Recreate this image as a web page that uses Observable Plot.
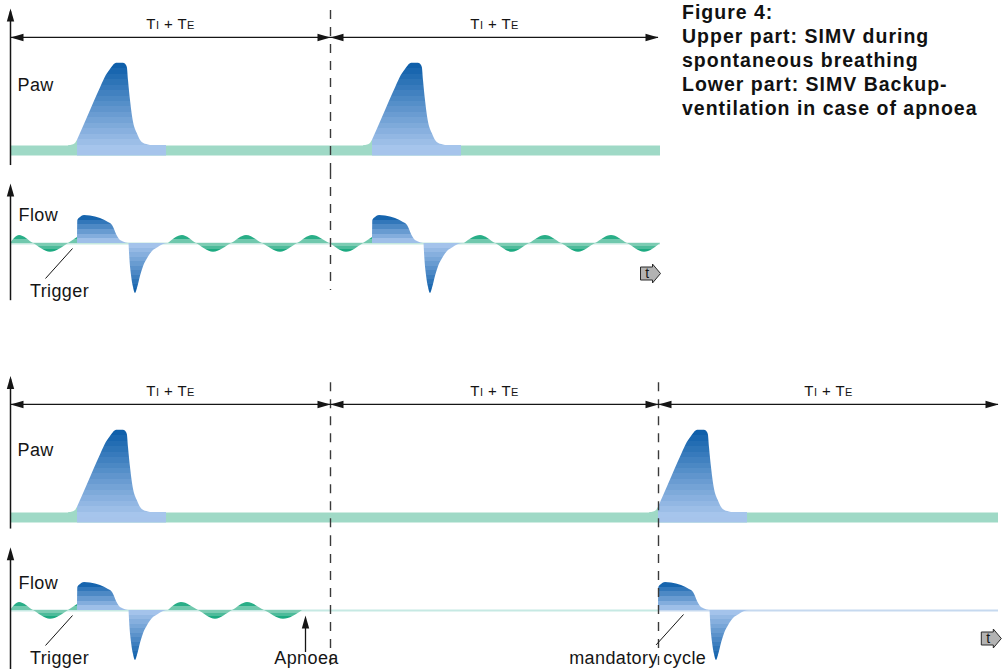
<!DOCTYPE html>
<html>
<head>
<meta charset="utf-8">
<script src="https://cdn.jsdelivr.net/npm/d3@7"></script>
<script src="https://cdn.jsdelivr.net/npm/@observablehq/plot@0.6"></script>
<style>
  body { margin: 0; background: #fff; }
  #wrap { position: relative; width: 1008px; height: 669px; overflow: hidden; background: #fff; }
  .panel { position: absolute; left: 0; }
  #caption { position: absolute; left: 682px; top: 1px; font-family: "Liberation Sans", Arial, sans-serif;
             font-weight: bold; font-size: 19.5px; line-height: 23.9px; letter-spacing: 1px; color: #111; }
</style>
</head>
<body>
<div id="wrap">
  <div id="caption">Figure 4:<br>Upper part: SIMV during<br>spontaneous breathing<br>Lower part: SIMV Backup-<br>ventilation in case of apnoea</div>
</div>
<script>
// ---------------- data (time in s, Paw in mbar above PEEP, flow in L/min) ----------------
const cycleLabel = "TI + TE";
const upperCycleBounds = [0, 4, 8.1];
const lowerCycleBounds = [0, 4, 8.1, 12.35];
const upperSpan = 8.125;
const lowerSpan = 12.35;

// start times of the mandatory breaths
const upperBreathStarts = [0.8375, 4.525];
const lowerBreathStarts = [0.8375, 8.1];

// Paw waveform of one mandatory breath (time from breath start)
const pawPreT = [-0.11, -0.06, -0.025, 0];
const pawPreV = [1.4, 1.6, 2.0, 2.9];
const pawT = [0, 0.125, 0.29, 0.36, 0.41, 0.45, 0.49, 0.575, 0.6125, 0.625, 0.6375, 0.6625, 0.696, 0.746, 0.809, 0.8875, 0.9375, 1.1125];
const pawV = [2.9, 9.4, 18, 21.4, 23.1, 24.3, 24.9, 24.9, 24.3, 23.4, 20, 14.3, 8.6, 4.9, 2.3, 1.6, 1.4, 1.4];

// Flow waveform of one mandatory breath (time from breath start)
const flowInspT = [0, 0.004, 0.0375, 0.0875, 0.1625, 0.2875, 0.3875, 0.4375, 0.4625, 0.4875, 0.525, 0.575, 0.6375];
const flowInspV = [0, 28.75, 32.5, 35, 34.4, 31.25, 26.25, 22.5, 17.5, 11.25, 5, 1.9, 0];
const flowExpT = [0.644, 0.656, 0.675, 0.7, 0.725, 0.75, 0.7875, 0.825, 0.875, 0.9375, 1.0, 1.075, 1.1375];
const flowExpV = [0, -21, -40, -55, -62.5, -56, -41, -29, -19, -10, -5.6, -1.2, 0];

// spontaneous breathing flow (zero crossings and extremes)
const upperWave1T = [0, 0.1125, 0.2875, 0.5, 0.725, 0.8375];
const upperWave1V = [0, 10, 0, -11, 0, 7.5];
const upperWave2T = [1.975, 2.15, 2.325, 2.5375, 2.7625, 2.95, 3.15, 3.375, 3.5875, 3.775, 3.9875, 4.2, 4.4125, 4.525];
const upperWave2V = [0, 10, 0, -11, 0, 10, 0, -11, 0, 10, 0, -11, 0, 7.5];
const upperWave3T = [5.675, 5.875, 6.0625, 6.275, 6.4875, 6.6875, 6.8875, 7.1, 7.3125, 7.5125, 7.7125, 7.925, 8.125];
const upperWave3V = [0, 10, 0, -11, 0, 10, 0, -11, 0, 10, 0, -11, 0];
const lowerWave1T = [0, 0.1125, 0.2875, 0.5, 0.725, 0.8375];
const lowerWave1V = [0, 10, 0, -11, 0, 7.5];
const lowerWave2T = [1.975, 2.1375, 2.35, 2.5625, 2.775, 2.9625, 3.175, 3.4125, 3.65];
const lowerWave2V = [0, 10, 0, -11, 0, 10, 0, -11, 0];

// annotations
const pawLabel = "Paw", flowLabel = "Flow";
const upperNoteText = ["Trigger"], upperNoteT = [0.6125], upperNoteV = [-60];
const upperLeadT1 = [0.775], upperLeadV1 = [-6.25], upperLeadT2 = [0.4375], upperLeadV2 = [-43.75];
const lowerNoteText = ["Trigger", "Apnoea", "mandatory cycle"], lowerNoteT = [0.6125, 3.7, 7.84], lowerNoteV = [-60, -60, -60];
const lowerLeadT1 = [0.775, 8.4125], lowerLeadV1 = [-6.25, -5], lowerLeadT2 = [0.4375, 8.07], lowerLeadV2 = [-43.75, -43];
const apnoeaT = [3.6875], apnoeaFromV = [-52.5], apnoeaToV = [-6.25];
const upperTimeIcon = [[8.0, -37.5]], lowerTimeIcon = [[12.26, -35]];

// ---------------- layout & style ----------------
const FONT = "'Liberation Sans', Arial, Helvetica, sans-serif";
const INK = "#151515";
const PX_PER_S = 80, X0 = 10;
const PAW_PX = 3.5, PAW_BASE = 150, PAW_H = 170;
const FLOW_PX = 0.8, FLOW_BASE = 73, FLOW_H = 132;
const GREEN_BAND = "#9fd9c6", BLUE_BAND = "#a6c4eb";
const GREEN_DARK = "#06a174", GREEN_LIGHT = "#93d5c0";
const BLUE_DARK = "#0a5ca8", BLUE_LIGHT = "#abc8ee";
const SVGNS = "http://www.w3.org/2000/svg";

const headRight = {draw(c) { c.moveTo(0, 0); c.lineTo(-13, -3.7); c.lineTo(-13, 3.7); c.closePath(); }};
const headLeft  = {draw(c) { c.moveTo(0, 0); c.lineTo(13, -3.7); c.lineTo(13, 3.7); c.closePath(); }};
const headUp    = {draw(c) { c.moveTo(0, 0); c.lineTo(-3.7, 13); c.lineTo(3.7, 13); c.closePath(); }};
const timeArrow = {draw(c) { c.moveTo(-10, -6.5); c.lineTo(2, -6.5); c.lineTo(2, -9.5); c.lineTo(10, 0);
                             c.lineTo(2, 9.5); c.lineTo(2, 6.5); c.lineTo(-10, 6.5); c.closePath(); }};

const xOpt = (w) => ({domain: [0, (w - X0) / PX_PER_S], range: [X0, w], axis: null});
const yOpt = (base, px, h) => ({domain: [(base - h) / px, base / px], range: [h, 0], axis: null});
const zip = (T, V, seg, off = 0) => T.map((t, i) => ({t: t + off, v: V[i], seg}));
const segs = (b) => b.slice(0, -1).map((a, i) => ({a, b: b[i + 1], m: (a + b[i + 1]) / 2}));

function addGradient(svg, id, base, px, vTop, vBot, dark, light, band) {
  const y = (v) => base - px * v;
  const yT = y(vTop), y0 = y(0), yB = vBot < 0 ? y(vBot) : y0 + 0.01;
  const iu = d3.interpolateRgb(dark, light);
  const st = [];
  const up = Math.max(1, Math.round((y0 - yT) / band));
  for (let i = 0; i < up; i++) {
    const c = iu((i + 0.5) / up);
    st.push([yT + (y0 - yT) * i / up, c], [yT + (y0 - yT) * (i + 1) / up, c]);
  }
  if (vBot < 0) {
    const dn = Math.max(1, Math.round((yB - y0) / band));
    for (let i = 0; i < dn; i++) {
      const c = iu(1 - (i + 0.5) / dn);
      st.push([y0 + (yB - y0) * i / dn, c], [y0 + (yB - y0) * (i + 1) / dn, c]);
    }
  }
  let defs = svg.querySelector("defs");
  if (!defs) { defs = document.createElementNS(SVGNS, "defs"); svg.insertBefore(defs, svg.firstChild); }
  const g = document.createElementNS(SVGNS, "linearGradient");
  g.setAttribute("id", id);
  g.setAttribute("gradientUnits", "userSpaceOnUse");
  g.setAttribute("x1", 0); g.setAttribute("x2", 0);
  g.setAttribute("y1", yT); g.setAttribute("y2", yB);
  for (const [yy, c] of st) {
    const s = document.createElementNS(SVGNS, "stop");
    s.setAttribute("offset", Math.min(1, Math.max(0, (yy - yT) / (yB - yT))));
    s.setAttribute("stop-color", c);
    g.appendChild(s);
  }
  defs.appendChild(g);
}

function subscriptLabels(svg) {
  svg.querySelectorAll("text").forEach((el) => {
    if (el.textContent === cycleLabel) {
      el.textContent = "";
      const parts = [["T", null], ["I", 11], [" + T", null], ["E", 11]];
      for (const [s, size] of parts) {
        if (size) {
          const ts = document.createElementNS(SVGNS, "tspan");
          ts.setAttribute("font-size", size);
          ts.textContent = s;
          el.appendChild(ts);
        } else el.appendChild(document.createTextNode(s));
      }
    }
  });
}

function pawPanel({width, span, bounds, starts, axisLow, axisHigh, dashTop, labelV, gid}) {
  const pre = starts.flatMap((s, k) => zip(pawPreT, pawPreV, "p" + k, s));
  const main = starts.flatMap((s, k) => zip(pawT, pawV, "m" + k, s));
  const cyc = segs(bounds);
  const bandLen = pawT[pawT.length - 1];
  const txt = {fontFamily: FONT, fill: INK};
  const svg = Plot.plot({
    width, height: PAW_H, margin: 0,
    x: xOpt(width), y: yOpt(PAW_BASE, PAW_PX, PAW_H),
    style: "background:transparent;overflow:visible;",
    marks: [
      Plot.ruleY([0], {x1: 0, x2: span, stroke: GREEN_BAND, strokeWidth: 10}),
      Plot.ruleY(starts, {y: 0, x1: (d) => d, x2: (d) => d + bandLen, stroke: BLUE_BAND, strokeWidth: 10}),
      Plot.areaY(pre, {x: "t", y1: 0, y2: "v", z: "seg", curve: "monotone-x", fill: GREEN_BAND}),
      Plot.areaY(main, {x: "t", y1: 0, y2: "v", z: "seg", curve: "monotone-x", fill: `url(#${gid})`}),
      Plot.ruleX(bounds.slice(1, -1), {y1: dashTop, y2: (PAW_BASE - PAW_H) / PAW_PX, stroke: "#3a3a3a", strokeWidth: 1.4, strokeDasharray: "9,8"}),
      Plot.ruleX([0], {y1: axisLow, y2: axisHigh - 1, stroke: INK, strokeWidth: 1.5}),
      Plot.dot([0], {x: 0, y: axisHigh, symbol: headUp, fill: INK, stroke: "none"}),
      Plot.ruleY(cyc, {y: 32.3, x1: "a", x2: "b", stroke: INK, strokeWidth: 1.2}),
      Plot.dot(cyc, {x: "a", y: 32.3, symbol: headLeft, fill: INK, stroke: "none"}),
      Plot.dot(cyc, {x: "b", y: 32.3, symbol: headRight, fill: INK, stroke: "none"}),
      Plot.text(cyc, {x: "m", y: 36.2, text: () => cycleLabel, fontSize: 15, ...txt}),
      Plot.text([pawLabel], {x: 0.0875, y: labelV, textAnchor: "start", fontSize: 18, ...txt})
    ]
  });
  addGradient(svg, gid, PAW_BASE, PAW_PX, 24.9, 0, BLUE_DARK, BLUE_LIGHT, 5.5);
  subscriptLabels(svg);
  svg.style.letterSpacing = "0.4px";
  return svg;
}

function flowPanel({width, span, bounds, starts, waves, baseSegs, axisLow, axisHigh, dashLow, labelV,
                    noteText, noteT, noteV, leadT1, leadV1, leadT2, leadV2, apnoea, icon, gid}) {
  const insp = starts.flatMap((s, k) => zip(flowInspT, flowInspV, "i" + k, s));
  const exp = starts.flatMap((s, k) => zip(flowExpT, flowExpV, "e" + k, s));
  const wave = waves.flatMap(([T, V], k) => zip(T, V, "w" + k));
  const txt = {fontFamily: FONT, fill: INK, fontSize: 18};
  const notes = noteText.map((s, i) => ({s, t: noteT[i], v: noteV[i]}));
  const leads = leadT1.map((t, i) => ({t1: t, v1: leadV1[i], t2: leadT2[i], v2: leadV2[i]}));
  const marks = [
    ...baseSegs.map(([a, b, c]) => Plot.ruleY([0], {x1: a, x2: b, stroke: c, strokeWidth: 2.2})),
    Plot.areaY(wave, {x: "t", y1: 0, y2: "v", z: "seg", curve: "monotone-x", fill: `url(#${gid}g)`}),
    Plot.areaY(insp, {x: "t", y1: 0, y2: "v", z: "seg", curve: "monotone-x", fill: `url(#${gid}b)`}),
    Plot.areaY(exp, {x: "t", y1: 0, y2: "v", z: "seg", curve: "monotone-x", fill: `url(#${gid}b)`}),
    Plot.ruleX(bounds.slice(1, -1), {y1: FLOW_BASE / FLOW_PX, y2: dashLow, stroke: "#3a3a3a", strokeWidth: 1.4, strokeDasharray: "9,8"}),
    Plot.ruleX([0], {y1: axisLow, y2: axisHigh - 10, stroke: INK, strokeWidth: 1.5}),
    Plot.dot([0], {x: 0, y: axisHigh, symbol: headUp, fill: INK, stroke: "none"}),
    Plot.text([flowLabel], {x: 0.1, y: labelV, textAnchor: "start", ...txt}),
    Plot.link(leads, {x1: "t1", y1: "v1", x2: "t2", y2: "v2", stroke: INK, strokeWidth: 1}),
    Plot.text(notes, {x: "t", y: "v", text: "s", ...txt}),
    Plot.dot(icon, {x: (d) => d[0], y: (d) => d[1], symbol: timeArrow, fill: "#b3b3b3", stroke: "#2a2a2a", strokeWidth: 1}),
    Plot.text(icon, {x: (d) => d[0], y: (d) => d[1], text: () => "t", dx: -3, fontSize: 14, fontFamily: FONT, fill: INK})
  ];
  if (apnoea) {
    marks.push(
      Plot.ruleX(apnoea.t, {y1: apnoea.from, y2: apnoea.to.map((v) => v - 10), stroke: INK, strokeWidth: 1.3}),
      Plot.dot(apnoea.t, {x: (d) => d, y: apnoea.to[0], symbol: headUp, fill: INK, stroke: "none"})
    );
  }
  const svg = Plot.plot({
    width, height: FLOW_H, margin: 0,
    x: xOpt(width), y: yOpt(FLOW_BASE, FLOW_PX, FLOW_H),
    style: "background:transparent;overflow:visible;",
    marks
  });
  addGradient(svg, gid + "g", FLOW_BASE, FLOW_PX, 10, -11, GREEN_DARK, GREEN_LIGHT, 3.5);
  addGradient(svg, gid + "b", FLOW_BASE, FLOW_PX, 35, -62.5, BLUE_DARK, BLUE_LIGHT, 4.5);
  svg.style.letterSpacing = "0.4px";
  return svg;
}

const wrap = document.getElementById("wrap");
function place(svg, top) { svg.classList.add("panel"); svg.style.position = "absolute"; svg.style.top = top + "px"; svg.style.left = "0px"; wrap.appendChild(svg); }

place(pawPanel({width: 670, span: upperSpan, bounds: upperCycleBounds, starts: upperBreathStarts,
  axisLow: -4.3, axisHigh: 40.6, dashTop: 40, labelV: 18.6, gid: "pawU"}), 0);

place(flowPanel({width: 670, span: upperSpan, bounds: upperCycleBounds, starts: upperBreathStarts,
  waves: [[upperWave1T, upperWave1V], [upperWave2T, upperWave2V], [upperWave3T, upperWave3V]],
  baseSegs: [[0, upperSpan, "#c4e8de"]], axisLow: -71.5, axisHigh: 75, dashLow: -58.75, labelV: 35,
  noteText: upperNoteText, noteT: upperNoteT, noteV: upperNoteV,
  leadT1: upperLeadT1, leadV1: upperLeadV1, leadT2: upperLeadT2, leadV2: upperLeadV2,
  apnoea: null, icon: upperTimeIcon, gid: "flowU"}), 170);

place(pawPanel({width: 1008, span: lowerSpan, bounds: lowerCycleBounds, starts: lowerBreathStarts,
  axisLow: -3.3, axisHigh: 40.4, dashTop: 38.5, labelV: 19.3, gid: "pawL"}), 366.5);

place(flowPanel({width: 1008, span: lowerSpan, bounds: lowerCycleBounds, starts: lowerBreathStarts,
  waves: [[lowerWave1T, lowerWave1V], [lowerWave2T, lowerWave2V]],
  baseSegs: [[0, lowerCycleBounds[2], "#c6e9e3"], [lowerCycleBounds[2], lowerSpan, "#c6d9ef"]],
  axisLow: -74, axisHigh: 79, dashLow: -74, labelV: 34.4,
  noteText: lowerNoteText, noteT: lowerNoteT, noteV: lowerNoteV,
  leadT1: lowerLeadT1, leadV1: lowerLeadV1, leadT2: lowerLeadT2, leadV2: lowerLeadV2,
  apnoea: {t: apnoeaT, from: apnoeaFromV, to: apnoeaToV}, icon: lowerTimeIcon, gid: "flowL"}), 537);
</script>
</body>
</html>
